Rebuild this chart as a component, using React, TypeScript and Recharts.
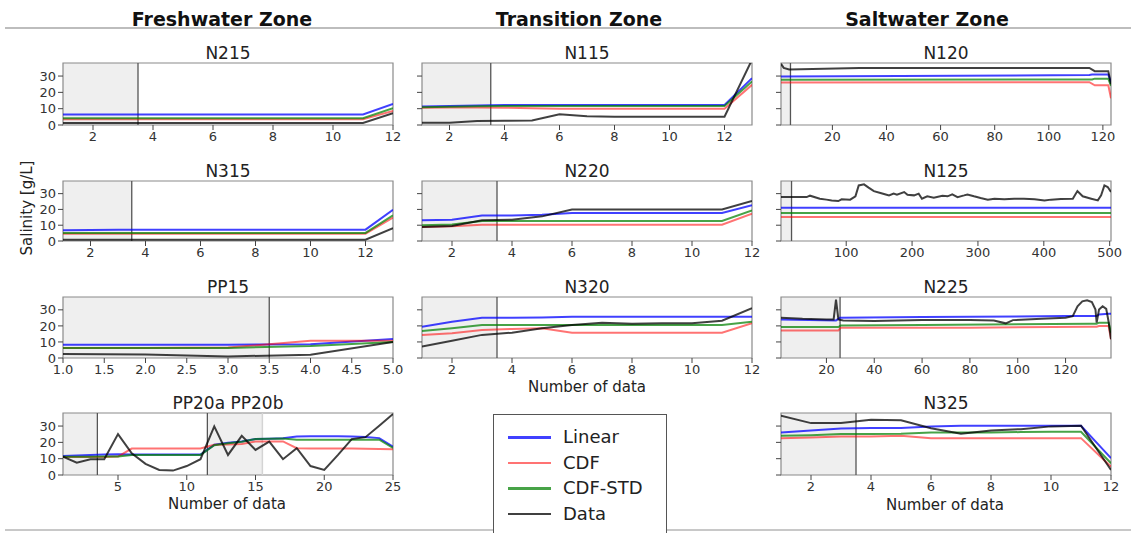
import React from "react";
import { LineChart, Line, XAxis, YAxis, ReferenceArea, ReferenceLine } from "recharts";

const FONT = '"DejaVu Sans", Verdana, sans-serif';
const Y_MAX = 38;
const yTicks = [0, 10, 20, 30];

const C_LINEAR = "rgba(0,0,255,0.75)";
const C_CDF = "rgba(255,0,0,0.55)";
const C_STD = "rgba(0,128,0,0.72)";
const C_DATA = "rgba(0,0,0,0.75)";

const legendNames = ["Linear", "CDF", "CDF-STD", "Data"];
const legendColors = [C_LINEAR, C_CDF, C_STD, C_DATA];

// ---- N215 (freshwater, row 1)
const n215X = [1, 2, 3, 4, 5, 6, 7, 8, 9, 10, 11, 12];
const n215Linear = [6.5, 6.5, 6.5, 6.5, 6.5, 6.5, 6.5, 6.5, 6.5, 6.5, 6.5, 12.9];
const n215Cdf = [3.6, 3.6, 3.6, 3.6, 3.6, 3.6, 3.6, 3.6, 3.6, 3.6, 3.6, 8.6];
const n215Std = [4.1, 4.1, 4.1, 4.1, 4.1, 4.1, 4.1, 4.1, 4.1, 4.1, 4.1, 10.3];
const n215Data = [1.2, 1.2, 1.2, 1.2, 1.2, 1.2, 1.2, 1.2, 1.2, 1.2, 1.2, 7.2];

// ---- N115 (transition, row 1)
const n115X = [1, 2, 3, 4, 5, 6, 7, 8, 9, 10, 11, 12, 13];
const n115Linear = [11.3, 11.6, 12, 12.2, 12.3, 12.3, 12.3, 12.3, 12.3, 12.3, 12.3, 12.3, 28.7];
const n115Cdf = [10.6, 10.7, 10.8, 10.6, 10.3, 10, 10, 10, 10, 10, 10, 10, 24.6];
const n115Std = [10.9, 11.2, 11.5, 11.6, 11.6, 11.6, 11.6, 11.6, 11.6, 11.6, 11.6, 11.6, 26.7];
const n115Data = [1.4, 1.4, 2.4, 2.6, 2.8, 6.6, 5.4, 5.1, 5.1, 5.1, 5.1, 5.1, 40];

// ---- N120 (saltwater, row 1)
const n120LinearX = [1, 115, 116, 122, 123];
const n120Linear = [29.8, 30.6, 30.9, 30.9, 26];
const n120CdfX = [1, 115, 117, 122, 123];
const n120Cdf = [26, 26.2, 24.3, 24.3, 16.4];
const n120StdX = [1, 116, 117, 122, 123];
const n120Std = [27.7, 27.9, 28.4, 28.4, 24];
const n120DataX = [1, 2, 4, 30, 115, 117, 122, 123];
const n120Data = [37.5, 35, 34, 35, 35, 33, 33, 25];

// ---- N315 (freshwater, row 2)
const n315X = [1, 2, 3, 4, 5, 6, 7, 8, 9, 10, 11, 12, 13];
const n315Linear = [6.8, 7, 7.2, 7.2, 7.2, 7.2, 7.2, 7.2, 7.2, 7.2, 7.2, 7.2, 19.8];
const n315Cdf = [4.6, 4.6, 4.6, 4.6, 4.6, 4.6, 4.6, 4.6, 4.6, 4.6, 4.6, 4.6, 14.8];
const n315Std = [5.1, 5.1, 5.1, 5.1, 5.1, 5.1, 5.1, 5.1, 5.1, 5.1, 5.1, 5.1, 16.2];
const n315Data = [0.8, 0.8, 0.8, 0.8, 0.8, 0.8, 0.8, 0.8, 0.8, 0.8, 0.8, 0.8, 8.2];

// ---- N220 (transition, row 2)
const n220X = [1, 2, 3, 4, 5, 6, 7, 8, 9, 10, 11, 12];
const n220Linear = [13.1, 13.5, 16.2, 16.2, 16.6, 17.7, 17.7, 17.7, 17.7, 17.7, 17.7, 22.6];
const n220Cdf = [8.9, 9.3, 10.3, 10.3, 10.3, 10.3, 10.3, 10.3, 10.3, 10.3, 10.3, 17.3];
const n220Std = [9.9, 10.5, 12.7, 12.7, 12.7, 12.7, 12.7, 12.7, 12.7, 12.7, 12.7, 19.4];
const n220Data = [8.9, 9.5, 13.1, 13.5, 15.6, 20, 20, 20, 20, 20, 20, 25.3];

// ---- N125 (saltwater, row 2)
const n125FlatX = [1, 502];
const n125Linear = [21.1, 21.1];
const n125Cdf = [15.2, 15.2];
const n125Std = [17.7, 17.7];
const n125DataX = [1, 40, 45, 60, 70, 78, 88, 93, 106, 114, 119, 127, 134, 142, 152, 160, 165, 172, 177, 188, 193, 203, 210, 215, 223, 233, 246, 254, 261, 269, 279, 284, 294, 304, 315, 325, 340, 355, 370, 386, 401, 411, 426, 444, 451, 459, 472, 482, 487, 492, 497, 502];
const n125Data = [27.8, 27.8, 28.7, 26.8, 26.2, 25.7, 25.3, 26.4, 26.2, 28.3, 35.2, 35.9, 33.8, 31.6, 30.4, 29.5, 28.9, 30.0, 29.3, 31.0, 29.3, 28.9, 30.0, 26.8, 28.3, 27.4, 28.7, 28.3, 29.5, 27.8, 28.9, 29.5, 28.3, 27.2, 26.2, 26.8, 26.4, 26.8, 26.8, 26.4, 25.7, 26.2, 26.6, 26.8, 31.6, 28.3, 26.8, 25.7, 28.9, 35.2, 34.2, 31.0];

// ---- PP15 (freshwater, row 3)
const pp15X = [1, 2, 3, 4, 5];
const pp15Linear = [8.3, 8.3, 8.3, 8.5, 11.8];
const pp15Cdf = [6.3, 6.3, 6.5, 10.8, 10.8];
const pp15Std = [6.2, 6.2, 6.3, 7.5, 10];
const pp15Data = [2.5, 2.2, 1, 2, 10];

// ---- N320 (transition, row 3)
const n320X = [1, 2, 3, 4, 5, 6, 7, 8, 9, 10, 11, 12];
const n320Linear = [19.5, 22.6, 25.1, 25.1, 25.3, 25.7, 25.7, 25.7, 25.7, 25.7, 25.7, 25.7];
const n320Cdf = [14.4, 15.4, 17.5, 18.1, 18.5, 15.8, 15.8, 15.8, 15.8, 15.8, 15.8, 21.6];
const n320Std = [16.8, 18.5, 20.5, 20.5, 20.5, 20.5, 20.5, 20.5, 20.5, 20.5, 20.5, 22.6];
const n320Data = [7.2, 10.7, 14.4, 15.8, 18.5, 20.5, 21.9, 21.3, 21.7, 21.7, 23.2, 31];

// ---- N225 (saltwater, row 3)
const n225LinearX = [1, 24, 25.7, 60, 120, 133, 134, 138, 139];
const n225Linear = [24, 23.4, 25.1, 25.5, 26.1, 26.1, 27.1, 27.5, 27.5];
const n225CdfX = [1, 25, 26, 80, 130, 133, 134, 138, 139];
const n225Cdf = [17.2, 17.2, 18.9, 18.9, 19.5, 19.5, 19.9, 19.9, 11.7];
const n225StdX = [1, 25, 26, 60, 130, 133, 134, 138, 139];
const n225Std = [19.3, 19.3, 20.3, 20.5, 21.4, 21.4, 22, 22, 15.8];
const n225DataX = [1, 10, 20, 23, 24, 25, 27, 40, 60, 80, 90, 95, 98, 110, 120, 123, 125, 127, 129, 131, 132.5, 133, 134, 135.5, 137, 138, 139];
const n225Data = [25.1, 24.4, 24, 24, 36.3, 24, 23.4, 23, 23.6, 23.6, 23.4, 21.6, 23.6, 24.4, 25.1, 26.1, 32.2, 35.3, 35.9, 34.9, 30.2, 22, 30.2, 32.2, 30.6, 22.6, 11.7];

// ---- PP20a PP20b (freshwater, row 4)
const pp20X = [1, 2, 3, 4, 5, 6, 7, 8, 9, 10, 11, 12, 13, 14, 15, 16, 17, 18, 19, 20, 21, 22, 23, 24, 25];
const pp20Linear = [11.7, 12, 12.2, 12.5, 12.7, 12.5, 12.5, 12.5, 12.5, 12.5, 12.5, 18.5, 19.7, 20.6, 22, 22.2, 22.5, 23.6, 23.8, 23.8, 23.8, 23.6, 23.3, 22.6, 17.3];
const pp20Cdf = [11, 11, 11, 11.1, 11.3, 16.2, 16.2, 16.2, 16.2, 16.2, 16.2, 18.5, 18.7, 19, 20.5, 20.6, 20.6, 16.4, 16.2, 16.2, 16.2, 16.2, 16.1, 16, 15.8];
const pp20Std = [11.2, 11.2, 11.2, 11.3, 11.3, 12.3, 12.3, 12.3, 12.3, 12.3, 12.3, 18.3, 19.5, 20.4, 22, 22.2, 22.4, 21.6, 21.6, 21.6, 21.6, 21.6, 21.6, 21.6, 16.6];
const pp20Data = [11.3, 7.6, 9.7, 9.7, 25.1, 13.3, 6.8, 3.1, 2.7, 5.5, 9.7, 29.8, 12.3, 24, 15.4, 20.5, 9.7, 16.4, 5.5, 3.1, 12.3, 22, 23.2, 30.2, 37.4];

// ---- N325 (saltwater, row 4)
const n325X = [1, 2, 3, 4, 5, 6, 7, 8, 9, 10, 11, 12];
const n325Linear = [26.1, 27.3, 28.5, 28.8, 28.8, 29.8, 30.2, 30.2, 30.2, 30.2, 30.2, 10.3];
const n325Cdf = [22.6, 23, 23.6, 23.6, 24, 22.6, 22.6, 22.6, 22.6, 22.6, 22.6, 5.1];
const n325Std = [24, 24.4, 25.1, 25.1, 25.3, 26.1, 26.1, 26.1, 26.3, 26.5, 26.5, 7.2];
const n325Data = [36.3, 31.8, 31.8, 33.9, 33.5, 28.7, 25.3, 27.3, 28.1, 29.8, 30.2, 3.1];

const ticks12 = [2, 4, 6, 8, 10, 12];
const ticksSalt = [20, 40, 60, 80, 100, 120];
const ticks500 = [100, 200, 300, 400, 500];
const ticksPP15 = [1, 1.5, 2, 2.5, 3, 3.5, 4, 4.5, 5];
const ticksPP20 = [5, 10, 15, 20, 25];

const colLeft = [63, 422, 781];
const rowTop = [63, 181, 297, 413];
const rowH = [62, 60, 61, 62];
const PLOT_W = 330;
const YAXIS_W = 45;
const XAXIS_H = 28;
const MT = 1;
const MR = 16;

type Pt = { x: number; y: number };
const pts = (xs: number[], ys: number[]): Pt[] => xs.map((x, i) => ({ x, y: ys[i] }));

function four(xl: number[], l: number[], xc: number[], c: number[], xs: number[], s: number[], xd: number[], d: number[]) {
  return [
    { color: C_LINEAR, data: pts(xl, l) },
    { color: C_CDF, data: pts(xc, c) },
    { color: C_STD, data: pts(xs, s) },
    { color: C_DATA, data: pts(xd, d) },
  ];
}

const panels = [
  { title: "N215", col: 0, row: 0, domain: [1, 12], ticks: ticks12, shades: [[1, 3.5]], vlines: [3.5],
    series: four(n215X, n215Linear, n215X, n215Cdf, n215X, n215Std, n215X, n215Data) },
  { title: "N115", col: 1, row: 0, domain: [1, 13], ticks: ticks12, shades: [[1, 3.5]], vlines: [3.5],
    series: four(n115X, n115Linear, n115X, n115Cdf, n115X, n115Std, n115X, n115Data) },
  { title: "N120", col: 2, row: 0, domain: [1, 123], ticks: ticksSalt, shades: [[1, 4.5]], vlines: [4.5],
    series: four(n120LinearX, n120Linear, n120CdfX, n120Cdf, n120StdX, n120Std, n120DataX, n120Data) },
  { title: "N315", col: 0, row: 1, domain: [1, 13], ticks: ticks12, shades: [[1, 3.5]], vlines: [3.5],
    series: four(n315X, n315Linear, n315X, n315Cdf, n315X, n315Std, n315X, n315Data) },
  { title: "N220", col: 1, row: 1, domain: [1, 12], ticks: ticks12, shades: [[1, 3.5]], vlines: [3.5],
    series: four(n220X, n220Linear, n220X, n220Cdf, n220X, n220Std, n220X, n220Data) },
  { title: "N125", col: 2, row: 1, domain: [1, 502], ticks: ticks500, shades: [[1, 17]], vlines: [17],
    series: four(n125FlatX, n125Linear, n125FlatX, n125Cdf, n125FlatX, n125Std, n125DataX, n125Data) },
  { title: "PP15", col: 0, row: 2, domain: [1, 5], ticks: ticksPP15, shades: [[1, 3.5]], vlines: [3.5], fixed: true,
    series: four(pp15X, pp15Linear, pp15X, pp15Cdf, pp15X, pp15Std, pp15X, pp15Data) },
  { title: "N320", col: 1, row: 2, domain: [1, 12], ticks: ticks12, shades: [[1, 3.5]], vlines: [3.5], xLabel: true,
    series: four(n320X, n320Linear, n320X, n320Cdf, n320X, n320Std, n320X, n320Data) },
  { title: "N225", col: 2, row: 2, domain: [1, 139], ticks: ticksSalt, shades: [[1, 25.7]], vlines: [25.7],
    series: four(n225LinearX, n225Linear, n225CdfX, n225Cdf, n225StdX, n225Std, n225DataX, n225Data) },
  { title: "PP20a PP20b", col: 0, row: 3, domain: [1, 25], ticks: ticksPP20, shades: [[1, 3.5], [11.5, 15.5]], vlines: [3.5, 11.5], light: [15.5], xLabel: true,
    series: four(pp20X, pp20Linear, pp20X, pp20Cdf, pp20X, pp20Std, pp20X, pp20Data) },
  { title: "N325", col: 2, row: 3, domain: [1, 12], ticks: ticks12, shades: [[1, 3.5]], vlines: [3.5], xLabel: true,
    series: four(n325X, n325Linear, n325X, n325Cdf, n325X, n325Std, n325X, n325Data) },
];

const tickStyle = { fontSize: 13, fill: "#333", fontFamily: FONT };

function Panel({ p }: { p: any }) {
  const left = colLeft[p.col];
  const top = rowTop[p.row];
  const h = rowH[p.row];
  const showY = p.col === 0;
  return (
    <>
      <div
        style={{
          position: "absolute", left, top: top - 20, width: PLOT_W, textAlign: "center",
          fontFamily: FONT, fontSize: 17, lineHeight: "20px", color: "#222",
        }}
      >
        {p.title}
      </div>
      <div style={{ position: "absolute", left: left - YAXIS_W, top: top - MT }}>
        <LineChart
          width={PLOT_W + YAXIS_W + MR}
          height={h + MT + XAXIS_H}
          margin={{ top: MT, right: MR, left: 0, bottom: 0 }}
        >
          <XAxis
            type="number"
            dataKey="x"
            domain={p.domain}
            ticks={p.ticks}
            interval={0}
            allowDataOverflow
            axisLine={false}
            tickSize={5}
            tickLine={{ stroke: "#444" }}
            tick={tickStyle}
            height={XAXIS_H}
            tickFormatter={p.fixed ? (v: number) => v.toFixed(1) : undefined}
          />
          <YAxis
            type="number"
            dataKey="y"
            domain={[0, Y_MAX]}
            ticks={yTicks}
            interval={0}
            allowDataOverflow
            axisLine={false}
            tickSize={5}
            tickLine={{ stroke: "#444" }}
            tick={tickStyle}
            width={YAXIS_W}
            tickFormatter={showY ? undefined : () => ""}
          />
          {p.shades.map((s: number[], i: number) => (
            <ReferenceArea key={"s" + i} x1={s[0]} x2={s[1]} y1={0} y2={Y_MAX} fill="#efefef" fillOpacity={1} stroke="none" />
          ))}
          {(p.light || []).map((x: number, i: number) => (
            <ReferenceLine key={"l" + i} x={x} stroke="#d4d4d4" strokeWidth={1.5} />
          ))}
          {p.vlines.map((x: number, i: number) => (
            <ReferenceLine key={"v" + i} x={x} stroke="#555" strokeWidth={1.3} />
          ))}
          {p.series.map((s: any, i: number) => (
            <Line
              key={i}
              data={s.data}
              dataKey="y"
              type="linear"
              stroke={s.color}
              strokeWidth={2}
              dot={false}
              activeDot={false}
              isAnimationActive={false}
            />
          ))}
          <ReferenceArea x1={p.domain[0]} x2={p.domain[1]} y1={0} y2={Y_MAX} fill="none" stroke="#8a8a8a" strokeWidth={1.2} />
        </LineChart>
      </div>
    </>
  );
}

const headers = [
  { text: "Freshwater Zone", cx: 222 },
  { text: "Transition Zone", cx: 579 },
  { text: "Saltwater Zone", cx: 927 },
];

const xLabels = [
  { cx: 587, cy: 387 },
  { cx: 227, cy: 504 },
  { cx: 945, cy: 505 },
];

export default function App() {
  return (
    <div
      style={{
        position: "absolute", left: 0, top: 0, width: 1131, height: 533,
        background: "#fff", overflow: "hidden", fontFamily: FONT,
      }}
    >
      {headers.map((hd) => (
        <div
          key={hd.text}
          style={{
            position: "absolute", left: hd.cx - 150, top: 8, width: 300, textAlign: "center",
            fontSize: 19, fontWeight: "bold", lineHeight: "22px", color: "#111",
          }}
        >
          {hd.text}
        </div>
      ))}
      <div style={{ position: "absolute", left: 5, top: 27, width: 1126, height: 2, background: "#bdbdbd" }} />
      <div style={{ position: "absolute", left: 5, top: 529, width: 1126, height: 2, background: "#c8c8c8" }} />

      <div
        style={{
          position: "absolute", left: 27, top: 208, transform: "translate(-50%, -50%) rotate(-90deg)",
          fontSize: 15, color: "#222", whiteSpace: "nowrap",
        }}
      >
        Salinity [g/L]
      </div>

      {panels.map((p) => (
        <Panel key={p.title} p={p} />
      ))}

      {xLabels.map((l, i) => (
        <div
          key={i}
          style={{
            position: "absolute", left: l.cx - 100, top: l.cy - 10, width: 200, textAlign: "center",
            fontSize: 15, lineHeight: "20px", color: "#222",
          }}
        >
          Number of data
        </div>
      ))}

      <div
        style={{
          position: "absolute", left: 493, top: 414, width: 172, height: 140,
          border: "1.5px solid #555", background: "#fff",
        }}
      >
        {legendNames.map((name, i) => (
          <div key={name} style={{ position: "absolute", left: 0, top: 22 + i * 25.5 - 12, height: 24, width: 170 }}>
            <div style={{ position: "absolute", left: 14, top: 11, width: 43, height: 2.5, background: legendColors[i] }} />
            <div style={{ position: "absolute", left: 69, top: 0, fontSize: 18, lineHeight: "24px", color: "#222" }}>
              {name}
            </div>
          </div>
        ))}
      </div>
    </div>
  );
}
